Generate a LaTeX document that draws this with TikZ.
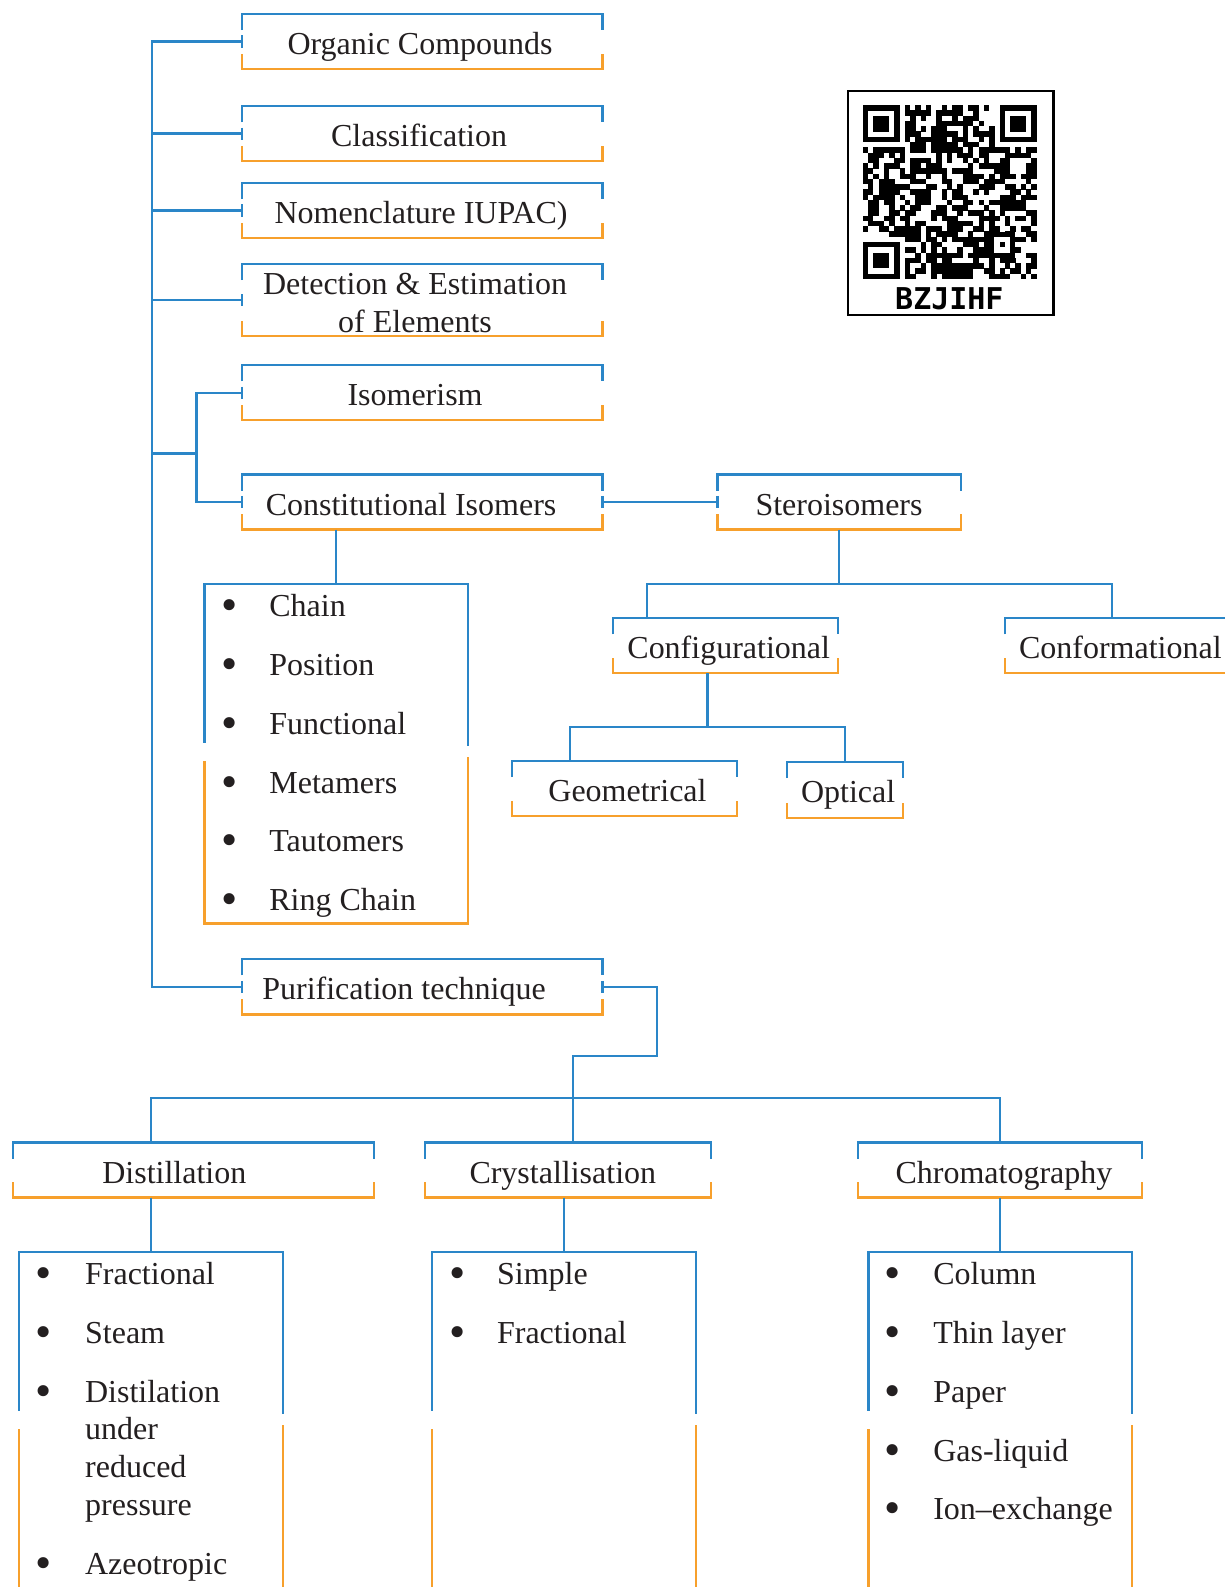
\documentclass[tikz,border=0pt]{standalone}
\usepackage{graphicx}
\usepackage{fontspec}
\setmainfont{Liberation Serif}
\newfontfamily\qrfont{DejaVu Sans Mono}
\usetikzlibrary{calc}
\definecolor{qblue}{HTML}{2A86C8}
\definecolor{qorange}{HTML}{F7A02C}
\definecolor{txt}{HTML}{231F20}
\tikzset{
 bl/.style={draw=qblue,line width=2.3pt},
 orn/.style={draw=qorange,line width=2.3pt},
 con/.style={draw=qblue,line width=2.3pt},
 bx/.style n args={2}{rectangle,inner sep=0pt,minimum width={#1*1.0124pt},minimum height={#2*1.0124pt},text=txt,font=\fontsize{32}{37.5}\selectfont},
 onel/.style={text height=26pt,text depth=0pt},
 lst/.style n args={2}{rectangle,inner sep=0pt,anchor=north west,minimum width={#1*1.0124pt},minimum height={#2*1.0124pt}},
 item/.style={anchor=base west,inner sep=0pt,text=txt,font=\fontsize{32}{37.5}\selectfont},
}
\newcommand\brk[1]{%
 \draw[bl] ([shift={(0,16)}]#1.north west) -- (#1.north west) -- (#1.north east) -- ([shift={(0,16)}]#1.north east);
 \draw[orn] ([shift={(0,-15)}]#1.south west) -- (#1.south west) -- (#1.south east) -- ([shift={(0,-15)}]#1.south east);}
\newcommand\jt[1]{\draw[con] ([shift={(0,-6)}]#1) -- ([shift={(0,6)}]#1);}
\newcommand\lframe[1]{%
 \draw[bl] ([shift={(0,157)}]#1.north west) -- (#1.north west) -- (#1.north east) -- ([shift={(0,160)}]#1.north east);
 \draw[orn] ([shift={(0,175)}]#1.north west) -- (#1.south west);
 \draw[orn] ([shift={(0,171)}]#1.north east) -- (#1.south east);}
\newcommand\bul[1]{\makebox[#1pt][l]{\hspace*{-2pt}\raisebox{-4pt}{\scalebox{1.45}{\textbullet}}}}
\begin{document}
\begin{tikzpicture}[x=1.0124pt,y=-1.0124pt]
\useasboundingbox (0,0) rectangle (1210,1568);

% ---------- main column boxes ----------
\node[bx={356}{54},onel] (oc) at (417,41) {\hspace*{-4pt}Organic Compounds};
\node[bx={356}{54},onel] (cl) at (417,132) {\hspace*{-6pt}Classification};
\node[bx={356}{54},onel] (nm) at (417,208) {\hspace*{-2pt}Nomenclature IUPAC)};
\node[bx={356}{71},align=center] (de) at (417,296.5) {\hspace*{-14pt}\rule{0pt}{27pt}Detection \& Estimation\\\hspace*{-14pt}of Elements};
\node[bx={356}{54},onel] (is) at (417,388) {\hspace*{-14pt}Isomerism};
\node[bx={356}{54},onel] (ci) at (417,496) {\hspace*{-22pt}Constitutional Isomers};
\node[bx={240}{54},onel] (st) at (829,496) {Steroisomers};
\node[bx={222}{54},onel] (cfg) at (717,638) {\hspace*{6pt}Configurational};
\node[bx={222}{54},onel] (cnf) at (1104,638) {\hspace*{6pt}Conformational};
\node[bx={222}{54},onel] (geo) at (617,779) {\hspace*{6pt}Geometrical};
\node[bx={114}{55},onel] (opt) at (835,780.5) {\hspace*{6pt}Optical};
\node[bx={356}{54},onel] (pt) at (417,975) {\hspace*{-36pt}Purification technique};
\node[bx={356}{54},onel] (di) at (191,1156) {\hspace*{-38pt}Distillation};
\node[bx={282}{54},onel] (cr) at (561,1156) {\hspace*{-10pt}Crystallisation};
\node[bx={280}{54},onel] (ch) at (988,1156) {\hspace*{8pt}Chromatography};
\foreach \n in {oc,cl,nm,de,is,ci,st,cfg,cnf,geo,opt,pt,di,cr,ch}{\brk{\n}}

% ---------- list boxes ----------
\node[lst={260}{335}] (cil) at (202,577) {};
\node[lst={260}{340}] (dil) at (19,1237) {};
\node[lst={260}{340}] (crl) at (427,1237) {};
\node[lst={260}{340}] (chl) at (858,1237) {};
\draw[bl] ([shift={(0,157)}]cil.north west) -- (cil.north west) -- (cil.north east) -- ([shift={(0,160)}]cil.north east);
\draw[orn] ([shift={(0,175)}]cil.north west) -- (cil.south west) -- (cil.south east) -- ([shift={(0,171)}]cil.north east);
\lframe{dil}\lframe{crl}\lframe{chl}

% ---------- list items ----------
\node[item] (i1) at (220.5,609.5) {\bul{46}Chain};
\node[item] (i2) at (220.5,667.5) {\bul{46}Position};
\node[item] (i3) at (220.5,725.5) {\bul{46}Functional};
\node[item] (i4) at (220.5,783.5) {\bul{46}Metamers};
\node[item] (i5) at (220.5,841.5) {\bul{46}Tautomers};
\node[item] (i6) at (220.5,899.5) {\bul{46}Ring Chain};

\node[item] (d1) at (36.5,1269.5) {\bul{48}Fractional};
\node[item] (d2) at (36.5,1327.5) {\bul{48}Steam};
\node[item] (d3) at (36.5,1385.5) {\bul{48}Distilation};
\node[item] (d3b) at (84,1422.5) {under};
\node[item] (d3c) at (84,1459.5) {reduced};
\node[item] (d3d) at (84,1497.5) {pressure};
\node[item] (d4) at (36.5,1555.5) {\bul{48}Azeotropic};

\node[item] (k1) at (445.5,1269.5) {\bul{46}Simple};
\node[item] (k2) at (445.5,1327.5) {\bul{46}Fractional};

\node[item] (h1) at (875.5,1269.5) {\bul{47}Column};
\node[item] (h2) at (875.5,1327.5) {\bul{47}Thin layer};
\node[item] (h3) at (875.5,1385.5) {\bul{47}Paper};
\node[item] (h4) at (875.5,1443.5) {\bul{47}Gas-liquid};
\node[item] (h5) at (875.5,1501.5) {\bul{47}Ion–exchange};

% ---------- connectors ----------
\coordinate (tr) at (150,0);
\coordinate (sb) at (194,0);
\coordinate (sj) at (194,448);
\draw[con] (oc.west) -| (pt.west -| tr) -- (pt.west);
\foreach \n in {cl,nm,de}{\draw[con] (\n.west) -- (\n.west -| tr);}
\draw[con] (is.west) -| (ci.west -| sb) -- (ci.west);
\draw[con] (sj) -- (sj -| tr);
\draw[con] (ci.east) -- (st.west);
\draw[con] (ci.south -| cil.north) -- (cil.north);

\coordinate (sj2) at (829,577);
\coordinate (cfgt) at (639,611);
\coordinate (cnft) at (1099,611);
\draw[con] (st.south) -- (sj2);
\draw[con] (cfgt) |- (sj2) -| (cnft);

\coordinate (cj) at (699,718);
\coordinate (gx) at (563,0);
\draw[con] (cfg.south -| cj) -- (cj);
\draw[con] (geo.north -| gx) |- (cj) -| (opt.north);

\coordinate (p1) at (649,1043);
\coordinate (p2) at (566,1085);
\draw[con] (pt.east) -| (p1) -| (p2);
\draw[con] (di.north -| dil.north) |- (p2) -| (ch.north);
\draw[con] (p2) -- (p2 |- cr.north);
\draw[con] (di.south -| dil.north) -- (dil.north);
\draw[con] (cr.south -| crl.north) -- (crl.north);
\draw[con] (ch.south -| chl.north) -- (chl.north);

\foreach \a in {oc.west,cl.west,nm.west,de.west,is.west,ci.west,pt.west,ci.east,st.west,pt.east}{\jt{\a}}

% ---------- QR code ----------
\draw[line width=2.5pt] (838,90) rectangle (1041,311);
\begin{scope}[shift={(852.5,104)}]
\def\qm{5.2}
\pgfmathsetseed{2024}
\foreach \i in {0,...,32}{\foreach \j in {0,...,32}{%
 \pgfmathtruncatemacro\inF{((\i<8)&&(\j<8))||((\i>24)&&(\j<8))||((\i<8)&&(\j>24))}%
 \ifnum\inF=0
  \pgfmathtruncatemacro\bk{rnd<0.56}%
  \ifnum\bk=1 \fill (\i*\qm-0.1,\j*\qm-0.1) rectangle ++(\qm+0.2,\qm+0.2);\fi
 \fi}}
\foreach \fx/\fy in {0/0,26/0,0/26}{
 \fill[black] (\fx*\qm,\fy*\qm) rectangle ++(7*\qm,7*\qm);
 \fill[white] (\fx*\qm+\qm,\fy*\qm+\qm) rectangle ++(5*\qm,5*\qm);
 \fill[black] (\fx*\qm+2*\qm,\fy*\qm+2*\qm) rectangle ++(3*\qm,3*\qm);}
\fill[black] (24*\qm,24*\qm) rectangle ++(5*\qm,5*\qm);
\fill[white] (25*\qm,25*\qm) rectangle ++(3*\qm,3*\qm);
\fill[black] (26*\qm,26*\qm) rectangle ++(\qm,\qm);
\end{scope}
\node[inner sep=0pt,font=\qrfont\bfseries\fontsize{30}{30}\selectfont] (qrt) at (938,295) {BZJIHF};
\end{tikzpicture}
\end{document}
